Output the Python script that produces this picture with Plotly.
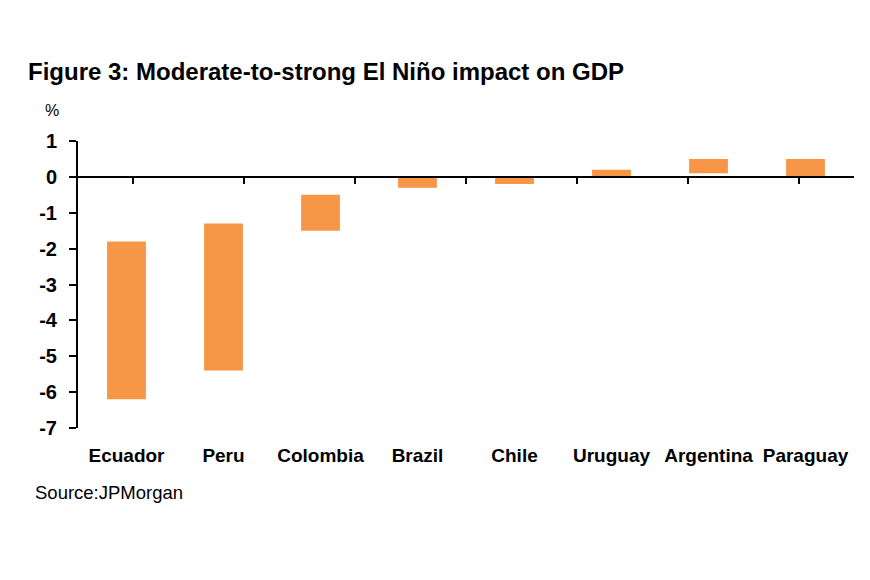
import plotly.graph_objects as go

countries = ["Ecuador", "Peru", "Colombia", "Brazil", "Chile", "Uruguay", "Argentina", "Paraguay"]
impact_low = [-6.2, -5.4, -1.5, -0.3, -0.2, 0.0, 0.1, 0.0]
impact_high = [-1.8, -1.3, -0.5, 0.0, 0.0, 0.2, 0.5, 0.5]
y_ticks = [1, 0, -1, -2, -3, -4, -5, -6, -7]

FONT = "Liberation Sans Narrow, Arial Narrow, Liberation Sans, Arial"
ORANGE = "#F79646"

y_min, y_max = -7, 1
zero_pos = (0 - y_min) / (y_max - y_min)

fig = go.Figure()

# floating bars: base = low end, height = high - low
fig.add_trace(go.Bar(
    x=countries,
    y=[h - l for h, l in zip(impact_high, impact_low)],
    base=impact_low,
    marker_color=ORANGE,
    marker_line_width=0,
    width=0.4,
    xaxis="x",
    yaxis="y",
    hovertemplate="%{x}: %{base} to %{y}<extra></extra>",
))

# invisible trace so the zero-line axis gets the same categories
fig.add_trace(go.Scatter(
    x=countries,
    y=[0] * len(countries),
    mode="none",
    xaxis="x2",
    yaxis="y",
    hoverinfo="skip",
    showlegend=False,
))

fig.update_layout(
    width=870,
    height=580,
    paper_bgcolor="white",
    plot_bgcolor="white",
    showlegend=False,
    margin=dict(l=70, r=24, t=133, b=160),
    font=dict(family=FONT, color="black"),
    title=dict(
        text="<b>Figure 3: Moderate-to-strong El Niño impact on GDP</b>",
        x=20 / 870, xanchor="left",
        y=1 - 64 / 580, yanchor="middle",
        font=dict(size=24, family=FONT, color="black"),
    ),
    xaxis=dict(
        type="category",
        showline=False,
        ticks="",
        showgrid=False,
        tickfont=dict(size=19, family=FONT),
        ticklabelstandoff=14,
        tickprefix="<b>", ticksuffix="</b>",
    ),
    xaxis2=dict(
        type="category",
        overlaying="x",
        anchor="free",
        position=zero_pos,
        side="bottom",
        showline=True,
        linecolor="black",
        linewidth=2,
        ticks="outside",
        tickson="boundaries",
        ticklen=6,
        tickwidth=2,
        tickcolor="black",
        showticklabels=False,
        showgrid=False,
    ),
    yaxis=dict(
        range=[y_min, y_max],
        tickvals=y_ticks,
        ticktext=[f"<b>{v}</b>" for v in y_ticks],
        showline=True,
        linecolor="black",
        linewidth=2,
        ticks="outside",
        ticklen=7,
        tickwidth=2,
        tickcolor="black",
        showgrid=False,
        zeroline=False,
        ticklabelstandoff=8,
        tickfont=dict(size=20, family=FONT),
    ),
    annotations=[
        dict(text="%", xref="paper", yref="paper", x=-35 / 776, y=1.108,
             xanchor="left", yanchor="middle", showarrow=False,
             font=dict(size=16, family=FONT)),
        dict(text="Source:JPMorgan", xref="paper", yref="paper",
             x=-45 / 776, y=-64 / 287, xanchor="left", yanchor="middle",
             showarrow=False, font=dict(size=18.5, family=FONT)),
    ],
)

fig.write_html("out.html")
